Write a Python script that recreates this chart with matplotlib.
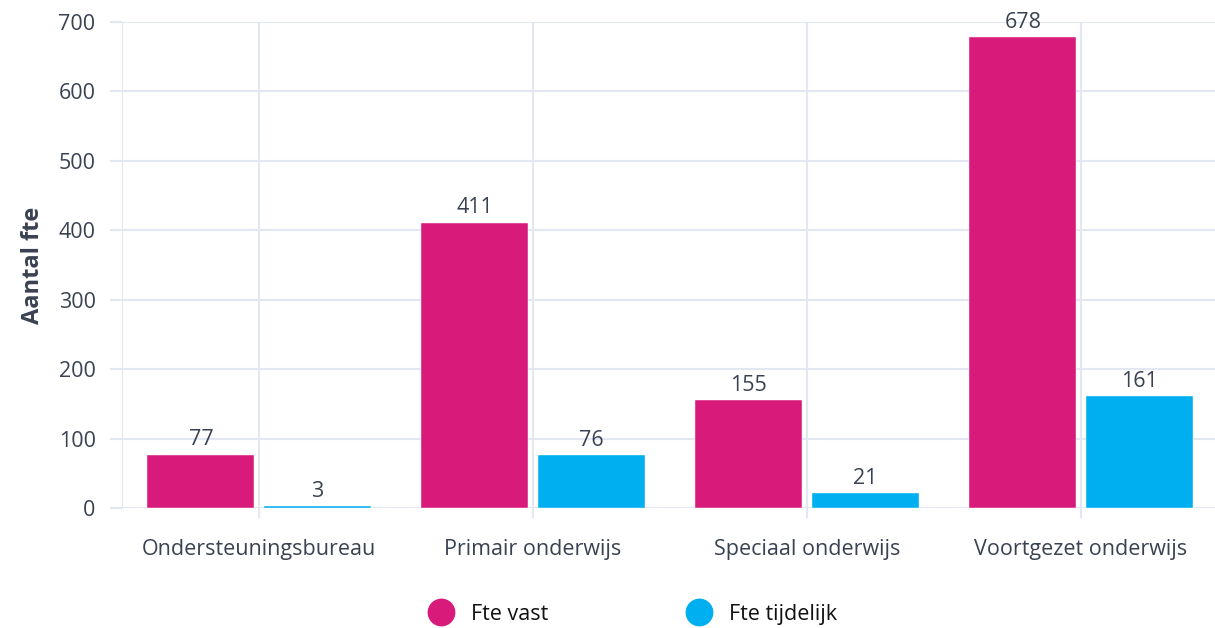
import matplotlib.pyplot as plt
from matplotlib.lines import Line2D
import numpy as np

plt.rcParams['font.family'] = ['Open Sans', 'DejaVu Sans']

categories = ['Ondersteuningsbureau', 'Primair onderwijs', 'Speciaal onderwijs', 'Voortgezet onderwijs']
fte_vast = [77, 411, 155, 678]
fte_tijdelijk = [3, 76, 21, 161]
series_names = ['Fte vast', 'Fte tijdelijk']

magenta = '#D81B7B'
cyan = '#00AFEF'
grid_c = '#E3E7F1'
text_c = '#3A4252'

fig = plt.figure(figsize=(12.15, 6.28), dpi=100)
ax = fig.add_axes([122 / 1215, 1 - 508 / 628, 1 - 122 / 1215, (508 - 22) / 628])

x = np.arange(len(categories))
w = 0.39
off = 0.212
b1 = ax.bar(x - off, fte_vast, width=w, color=magenta, edgecolor='white', linewidth=0.3, zorder=3)
b2 = ax.bar(x + off, fte_tijdelijk, width=w, color=cyan, edgecolor='white', linewidth=0.3, zorder=3)

for bars in (b1, b2):
    for r in bars:
        h = r.get_height()
        ax.text(r.get_x() + r.get_width() / 2, h + 6, str(int(h)), ha='center', va='bottom',
                fontsize=15.5, color=text_c, zorder=4)

ax.set_xlim(-0.5, -0.5 + (1215 - 122) / 274)
ax.set_ylim(0, 700)
ax.set_yticks(range(0, 701, 100))
ax.set_xticks(x)
ax.set_xticklabels(categories)
ax.grid(True, color=grid_c, linewidth=1.5, zorder=0)
ax.axvline(-0.5, color=grid_c, linewidth=1.5, zorder=0)
for s in ax.spines.values():
    s.set_visible(False)
ax.tick_params(axis='both', colors=grid_c, labelcolor=text_c, labelsize=15.5, width=1.5)
ax.tick_params(axis='y', length=9, pad=10)
ax.tick_params(axis='x', length=7, pad=15)
ax.set_ylabel('Aantal fte', fontsize=17, fontweight='bold', color=text_c, labelpad=10)

handles = [Line2D([], [], marker='o', linestyle='', markersize=19, color=c) for c in (magenta, cyan)]
fig.legend(handles, series_names, loc='center', bbox_to_anchor=(0.517, 0.022), ncol=2, frameon=False,
           fontsize=15.5, columnspacing=6.0, handletextpad=0.4, labelcolor='#111111')

fig.savefig('out.png', dpi=100)
